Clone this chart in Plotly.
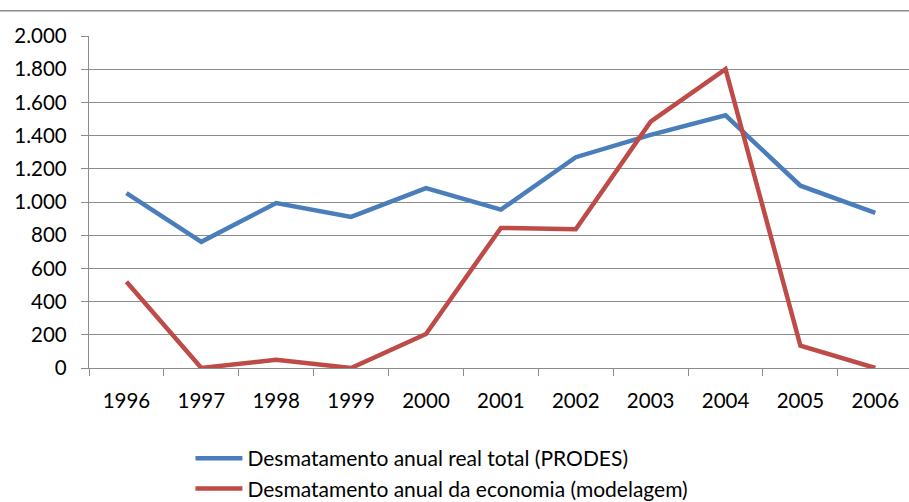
import plotly.graph_objects as go

years = ["1996", "1997", "1998", "1999", "2000", "2001", "2002", "2003", "2004", "2005", "2006"]
prodes = [1054, 760, 994, 910, 1084, 954, 1270, 1404, 1522, 1098, 934]
modelo = [520, 0, 50, 0, 205, 844, 836, 1484, 1800, 134, 0]
name_prodes = "Desmatamento anual real total (PRODES)"
name_modelo = "Desmatamento anual da economia (modelagem)"
y_ticks = [0, 200, 400, 600, 800, 1000, 1200, 1400, 1600, 1800, 2000]

FONT = "Lato"
GRID = "#8c8c8c"

fig = go.Figure()
fig.add_trace(go.Scatter(x=years, y=prodes, mode="lines", name=name_prodes,
                         line=dict(color="#4A7EBB", width=4.5)))
fig.add_trace(go.Scatter(x=years, y=modelo, mode="lines", name=name_modelo,
                         line=dict(color="#BE4B48", width=4.5)))

fig.update_layout(
    width=909, height=502,
    margin=dict(l=89, r=0, t=36, b=134, pad=0),
    paper_bgcolor="white", plot_bgcolor="white",
    separators=",.",
    font=dict(family=FONT, size=20.5, color="black"),
    showlegend=True,
    legend=dict(orientation="v", x=0.1237, y=0.1275, xanchor="left", yanchor="top",
                yref="container",
                font=dict(family=FONT, size=21), itemwidth=47,
                tracegroupgap=0, bgcolor="rgba(0,0,0,0)"),
    shapes=[dict(type="line", xref="paper", yref="paper",
                 x0=-0.2, x1=1.1, y0=1.0761, y1=1.0761,
                 line=dict(color=GRID, width=1.3))],
)
fig.update_xaxes(type="category", range=[-0.5, 10.45], showgrid=False,
                 showline=True, linecolor=GRID, linewidth=1.3,
                 ticks="outside", ticklen=7, tickcolor=GRID, tickwidth=1.3,
                 tickson="boundaries", ticklabelstandoff=14)
fig.update_yaxes(range=[0, 2000], tickvals=y_ticks, tickformat=",d",
                 showgrid=True, gridcolor=GRID, gridwidth=1.3,
                 showline=True, linecolor=GRID, linewidth=1.3,
                 ticks="outside", ticklen=7, tickcolor=GRID, tickwidth=1.3,
                 zeroline=False, ticklabelstandoff=10)

fig.write_html("out.html", config={"displayModeBar": False},
               post_script="document.body.style.margin='0';")
